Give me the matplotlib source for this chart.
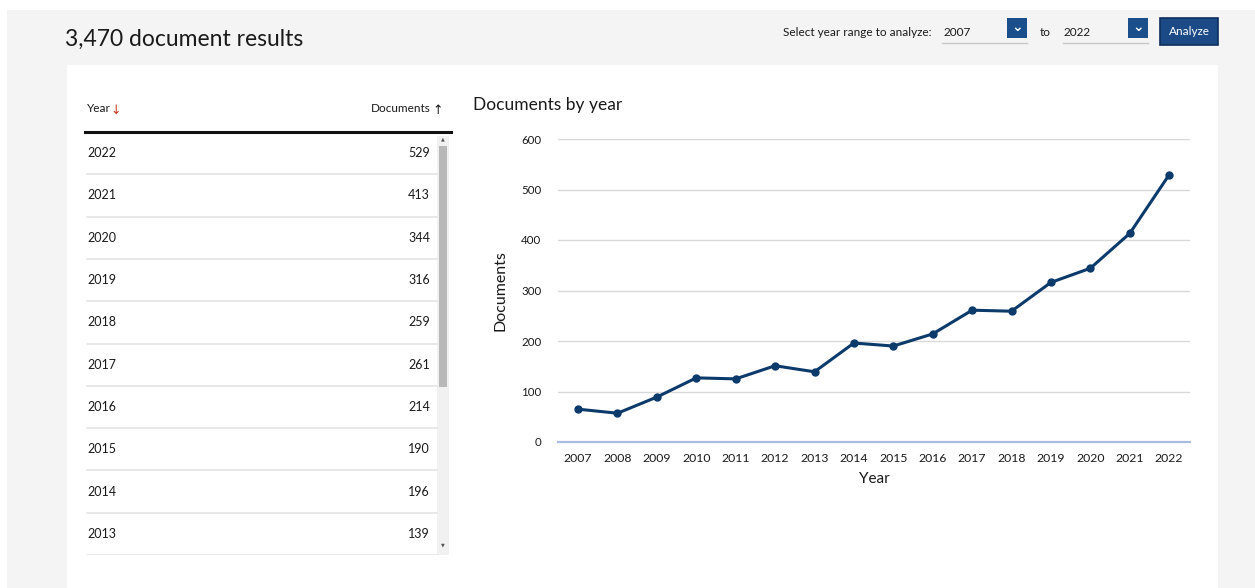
import matplotlib
matplotlib.use('Agg')
import matplotlib.pyplot as plt
from matplotlib.patches import Rectangle

plt.rcParams['font.family'] = ['Lato', 'DejaVu Sans']

# data
years = [2007, 2008, 2009, 2010, 2011, 2012, 2013, 2014,
         2015, 2016, 2017, 2018, 2019, 2020, 2021, 2022]
documents = [65, 57, 89, 127, 125, 151, 139, 196,
             190, 214, 261, 259, 316, 344, 413, 529]
y_ticks = [0, 100, 200, 300, 400, 500, 600]
n_table_rows = 10

W, H = 1255, 588
NAVY = '#0b3a6b'
TXT = '#1a1a1a'

fig = plt.figure(figsize=(W / 100, H / 100), dpi=100, facecolor='white')


def px_axes(x0, y0, x1, y1, **kw):
    # axes placed with pixel box (top-left origin)
    return fig.add_axes([x0 / W, (H - y1) / H, (x1 - x0) / W, (y1 - y0) / H], **kw)


# page chrome
bg = px_axes(0, 0, W, H)
bg.set_xlim(0, W)
bg.set_ylim(H, 0)
bg.axis('off')
bg.add_patch(Rectangle((7, 10), W - 7, H - 10, color='#f4f4f4', lw=0))
bg.add_patch(Rectangle((67, 65), 1218 - 67, H - 65, color='white', lw=0))

bg.text(65, 39, '3,470 document results', fontsize=16.5, color='#1a1a1a', va='center')

# year range controls
bg.text(783, 32, 'Select year range to analyze:', fontsize=8.5, color=TXT, va='center')
bg.text(943, 33, '2007', fontsize=8.5, color=TXT, va='center')
bg.plot([942, 1027], [43, 43], color='#c9c9c9', lw=1)
bg.add_patch(Rectangle((1007, 18), 20, 20, color='#1a4f8c', lw=0))
bg.text(1017, 27, '⌄', fontsize=10, color='white', ha='center', va='center',
        family='DejaVu Sans', fontweight='bold')
bg.text(1040, 33, 'to', fontsize=8.5, color=TXT, va='center')
bg.text(1064, 33, '2022', fontsize=8.5, color=TXT, va='center')
bg.plot([1063, 1148], [43, 43], color='#c9c9c9', lw=1)
bg.add_patch(Rectangle((1128, 18), 20, 20, color='#1a4f8c', lw=0))
bg.text(1138, 27, '⌄', fontsize=10, color='white', ha='center', va='center',
        family='DejaVu Sans', fontweight='bold')
bg.add_patch(Rectangle((1160, 18), 58, 27, facecolor='#1b4a86', edgecolor='#0d2f5c', lw=1.2))
bg.text(1189, 31.5, 'Analyze', fontsize=8.5, color='white', ha='center', va='center')

# table headers
bg.text(87, 109, 'Year', fontsize=8.5, color=TXT, va='center')
bg.text(110, 110, '↓', fontsize=9, color='#c83a1e', va='center', family='DejaVu Sans')
bg.text(431, 109, 'Documents', fontsize=8.5, color=TXT, va='center', ha='right')
bg.text(443, 110, '↑', fontsize=9, color=TXT, va='center', ha='right', family='DejaVu Sans')

# table
tax = px_axes(85, 132, 451, 555)
tax.set_xlim(85, 451)
tax.set_ylim(n_table_rows, 0)
tax.axis('off')
rows = list(zip(years, documents))[::-1][:n_table_rows]
for i, (yr, val) in enumerate(rows):
    tax.text(87, i + 0.5, str(yr), fontsize=9, color=TXT, va='center')
    tax.text(430, i + 0.5, str(val), fontsize=9, color=TXT, va='center', ha='right')
    tax.plot([87, 437], [i + 1, i + 1], color='#e4e4e4', lw=1.2)
tax.plot([85, 451], [0, 0], color='#111111', lw=2.2, clip_on=False)
# scrollbar
tax.add_patch(Rectangle((437, 0.1), 12, n_table_rows - 0.1, color='#f1f1f1', lw=0))
tax.add_patch(Rectangle((439, 0.32), 8, 5.7, color='#b8b8b8', lw=0))
tax.text(443, 0.17, '▲', fontsize=3.5, color='#555555', ha='center', va='center', family='DejaVu Sans')
tax.text(443, 9.75, '▼', fontsize=3.5, color='#555555', ha='center', va='center', family='DejaVu Sans')

# line chart
ax = px_axes(558, 139, 1190, 442)
ax.plot(years, documents, color=NAVY, lw=2.2, marker='o', markersize=5, zorder=3)
ax.set_xlim(years[0] - 0.51, years[-1] + 0.53)
ax.set_ylim(y_ticks[0], y_ticks[-1])
ax.set_yticks(y_ticks)
ax.set_xticks(years)
ax.set_xticklabels([str(y) for y in years], fontsize=8.8, color=TXT)
ax.set_yticklabels([str(t) for t in y_ticks], fontsize=8.3, color=TXT)
ax.tick_params(length=0)
ax.tick_params(axis='y', pad=12)
ax.tick_params(axis='x', pad=8)
for t in y_ticks[1:]:
    ax.axhline(t, color='#d9d9d9', lw=1, zorder=1)
ax.axhline(0, color='#a9bde0', lw=1.6, zorder=2, clip_on=False)
for s in ax.spines.values():
    s.set_visible(False)
ax.set_xlabel('Year', fontsize=11, color=TXT, labelpad=6)
ax.set_ylabel('Documents', fontsize=11.5, color=TXT, labelpad=10)
bg.text(473, 105, 'Documents by year', fontsize=12.5, color='#1a1a1a', va='center')

fig.savefig('out.png', dpi=100, facecolor=fig.get_facecolor())
